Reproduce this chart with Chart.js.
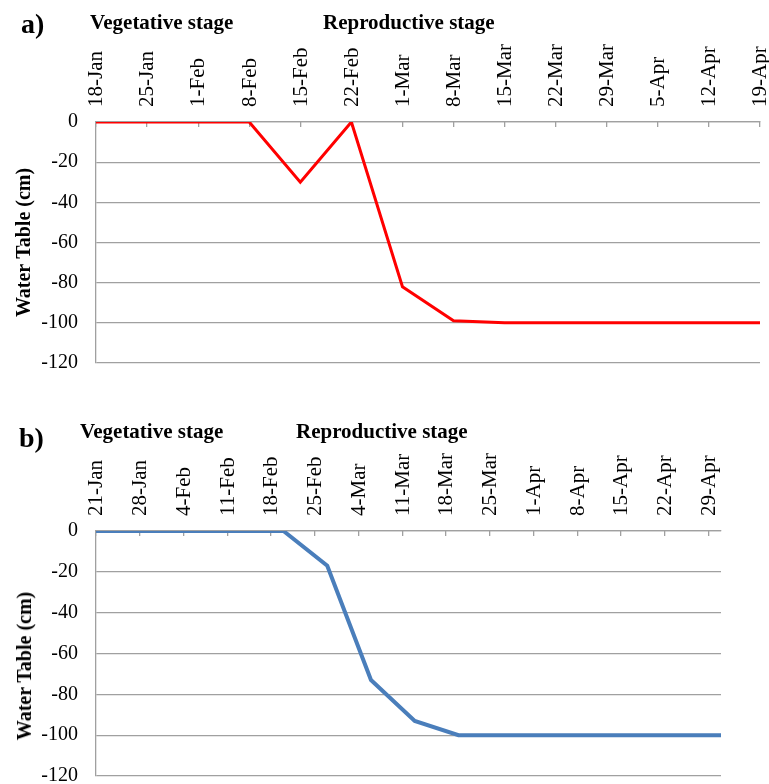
<!DOCTYPE html>
<html>
<head>
<meta charset="utf-8">
<script src="https://cdn.jsdelivr.net/npm/chart.js@4"></script>
<style>
  body { margin: 0; width: 769px; height: 784px; position: relative; background: #fff; overflow: hidden; font-family: "Liberation Serif", serif; }
  .lbl { position: absolute; font-weight: bold; line-height: 1; white-space: nowrap; color: #000; z-index: 2; }
  .panel { font-size: 28px; }
  .stage { font-size: 21px; }
  .ytitle { font-size: 20px; transform: translate(-50%, -50%) rotate(-90deg); }
  canvas { position: absolute; left: 0; }
</style>
</head>
<body>
<div class="lbl panel" style="left:21px;top:10px">a)</div>
<div class="lbl stage" style="left:90px;top:12px">Vegetative stage</div>
<div class="lbl stage" style="left:323px;top:12px">Reproductive stage</div>
<div class="lbl panel" style="left:19px;top:424px">b)</div>
<div class="lbl stage" style="left:80px;top:421px">Vegetative stage</div>
<div class="lbl stage" style="left:296px;top:421px">Reproductive stage</div>
<div class="lbl ytitle" style="left:24px;top:666px">Water Table (cm)</div>

<canvas id="chartA" width="769" height="380" style="top:0"></canvas>
<canvas id="chartB" width="769" height="384" style="top:400px"></canvas>

<script>
// a) weekly readings
const datesA = ["18-Jan", "25-Jan", "1-Feb", "8-Feb", "15-Feb", "22-Feb", "1-Mar", "8-Mar", "15-Mar", "22-Mar", "29-Mar", "5-Apr", "12-Apr", "19-Apr"];
const waterA = [0, 0, 0, 0, -30, 0, -82, -99, -100, -100, -100, -100, -100, -100];

// b) readings, x = days after 21-Jan
const daysB = [0, 9, 16, 23, 30, 37, 44, 51, 58, 65, 72, 79, 86, 93, 100];
const waterB = [0, 0, 0, 0, 0, -17, -73, -93, -100, -100, -100, -100, -100, -100, -100];
const tickDaysB = [0, 7, 14, 21, 28, 35, 42, 49, 56, 63, 70, 77, 84, 91, 98];
const tickLabelsB = ["21-Jan", "28-Jan", "4-Feb", "11-Feb", "18-Feb", "25-Feb", "4-Mar", "11-Mar", "18-Mar", "25-Mar", "1-Apr", "8-Apr", "15-Apr", "22-Apr", "29-Apr"];

const yTicks = [0, -20, -40, -60, -80, -100, -120];

const FONT = "'Liberation Serif', 'Times New Roman', serif";
const GRID = "#a0a0a0";

function yScale(padLeft, showTitle) {
  return {
    min: -120,
    max: 0,
    afterBuildTicks: (s) => { s.ticks = yTicks.map((v) => ({ value: v })); },
    afterFit: (s) => {
      s.width = 96 - padLeft;
      s.paddingTop = 0;
      s.paddingBottom = 0;
    },
    grid: { drawTicks: false, color: GRID, lineWidth: 1.3 },
    border: { color: GRID, width: 1.3 },
    ticks: { padding: 18, color: "#000", font: { family: FONT, size: 20 } },
    title: {
      display: showTitle,
      text: "Water Table (cm)",
      color: "#000",
      font: { family: FONT, size: 20, weight: "bold" },
      padding: { top: 8, bottom: 0 },
    },
  };
}

function xBase(axisHeight) {
  return {
    position: "top",
    offset: false,
    afterFit: (s) => {
      s.height = axisHeight;
      s.paddingLeft = 0;
      s.paddingRight = 0;
    },
    grid: { drawOnChartArea: false, drawTicks: true, tickLength: -5, color: GRID, lineWidth: 1.3 },
    border: { color: GRID, width: 1.3 },
    ticks: {
      autoSkip: false,
      minRotation: 90,
      maxRotation: 90,
      padding: 20,
      labelOffset: 26,
      color: "#000",
      font: { family: FONT, size: 21 },
    },
  };
}

const common = {
  responsive: false,
  animation: false,
  plugins: { legend: { display: false }, tooltip: { enabled: false } },
  elements: { point: { radius: 0 }, line: { tension: 0 } },
};

new Chart(document.getElementById("chartA"), {
  type: "line",
  data: {
    labels: datesA,
    datasets: [{ data: waterA, borderColor: "#ff0000", borderWidth: 3, fill: false }],
  },
  options: {
    ...common,
    layout: { padding: { left: 5, top: 0, right: 9, bottom: 17 } },
    scales: {
      x: xBase(122),
      y: yScale(5, true),
    },
  },
});

// b) title drawn as html text, it sits below the plot centre
const xB = xBase(131);
xB.type = "linear";
xB.min = 0;
xB.max = 100;
xB.afterBuildTicks = (s) => { s.ticks = tickDaysB.map((v) => ({ value: v })); };
xB.ticks.callback = (value) => tickLabelsB[tickDaysB.indexOf(value)];

new Chart(document.getElementById("chartB"), {
  type: "line",
  data: {
    datasets: [{
      data: daysB.map((d, i) => ({ x: d, y: waterB[i] })),
      borderColor: "#4a7ebb",
      borderWidth: 4,
      fill: false,
    }],
  },
  options: {
    ...common,
    layout: { padding: { left: 5, top: 0, right: 48, bottom: 8 } },
    scales: {
      x: xB,
      y: yScale(5, false),
    },
  },
});
</script>
</body>
</html>
